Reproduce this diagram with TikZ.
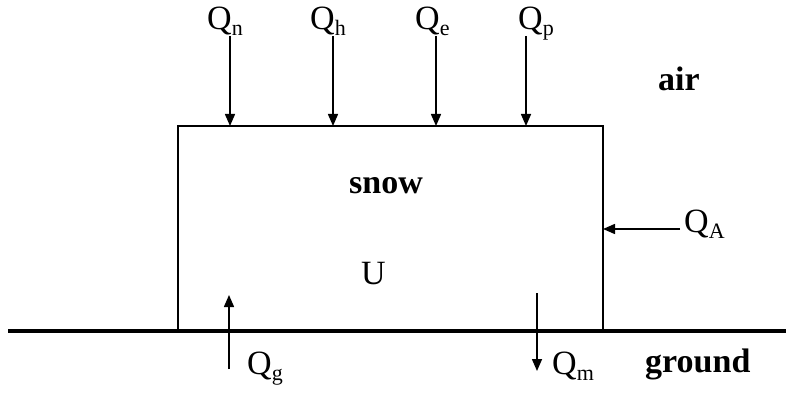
\documentclass[tikz,border=0pt]{standalone}
\usepackage{fontspec}
\setmainfont{Liberation Serif}
\usetikzlibrary{arrows.meta}
\newcommand{\qsub}[1]{Q\raisebox{-6pt}{\fontsize{22}{22}\selectfont #1}}
\tikzset{
  lbl/.style={anchor=base west, inner sep=0pt, font=\fontsize{34}{34}\selectfont},
  bold/.style={lbl, font=\fontsize{34}{34}\selectfont\bfseries},
  flux/.style={line width=1.5pt, -{Triangle[length=12pt,width=10pt]}},
  boxline/.style={line width=2pt},
  groundline/.style={line width=4pt}
}
\begin{document}
\begin{tikzpicture}[x=1pt,y=-1pt]
\useasboundingbox (0,0) rectangle (786,393);
% ground
\coordinate (gl) at (8,331);
\coordinate (gr) at (786,331);
\draw[groundline] (gl) -- (gr);
% snow box
\coordinate (bl) at (178,331);
\coordinate (tl) at (178,126);
\coordinate (tr) at (603,126);
\coordinate (br) at (603,331);
\draw[boxline] (bl) -- (tl) -- (tr) -- (br);
% top labels
\node[lbl] (qn) at (207,30) {\qsub{n}};
\node[lbl] (qh) at (310,30) {\qsub{h}};
\node[lbl] (qe) at (415,30) {\qsub{e}};
\node[lbl] (qp) at (518,30) {\qsub{p}};
% top arrows
\coordinate (an) at (230,36);
\coordinate (ah) at (333,36);
\coordinate (ae) at (436,36);
\coordinate (ap) at (526,36);
\draw[flux] (an) -- (an |- tl);
\draw[flux] (ah) -- (ah |- tl);
\draw[flux] (ae) -- (ae |- tl);
\draw[flux] (ap) -- (ap |- tl);
% side flux
\node[lbl] (qa) at (684,232.5) {\qsub{A}};
\coordinate (aa) at (680,229);
\draw[flux] (aa) -- (aa -| tr);
% bottom fluxes
\node[lbl] (qg) at (247,374.5) {\qsub{g}};
\coordinate (gs) at (229,369);
\coordinate (ge) at (229,295);
\draw[flux] (gs) -- (ge);
\node[lbl] (qm) at (552,374.5) {\qsub{m}};
\coordinate (ms) at (537,293);
\coordinate (me) at (537,371);
\draw[flux] (ms) -- (me);
% texts
\node[bold] (air) at (658,91) {air};
\node[bold] (snow) at (349,193) {snow};
\node[lbl] (u) at (361,284) {U};
\node[bold] (ground) at (645,372) {ground};
\end{tikzpicture}
\end{document}
